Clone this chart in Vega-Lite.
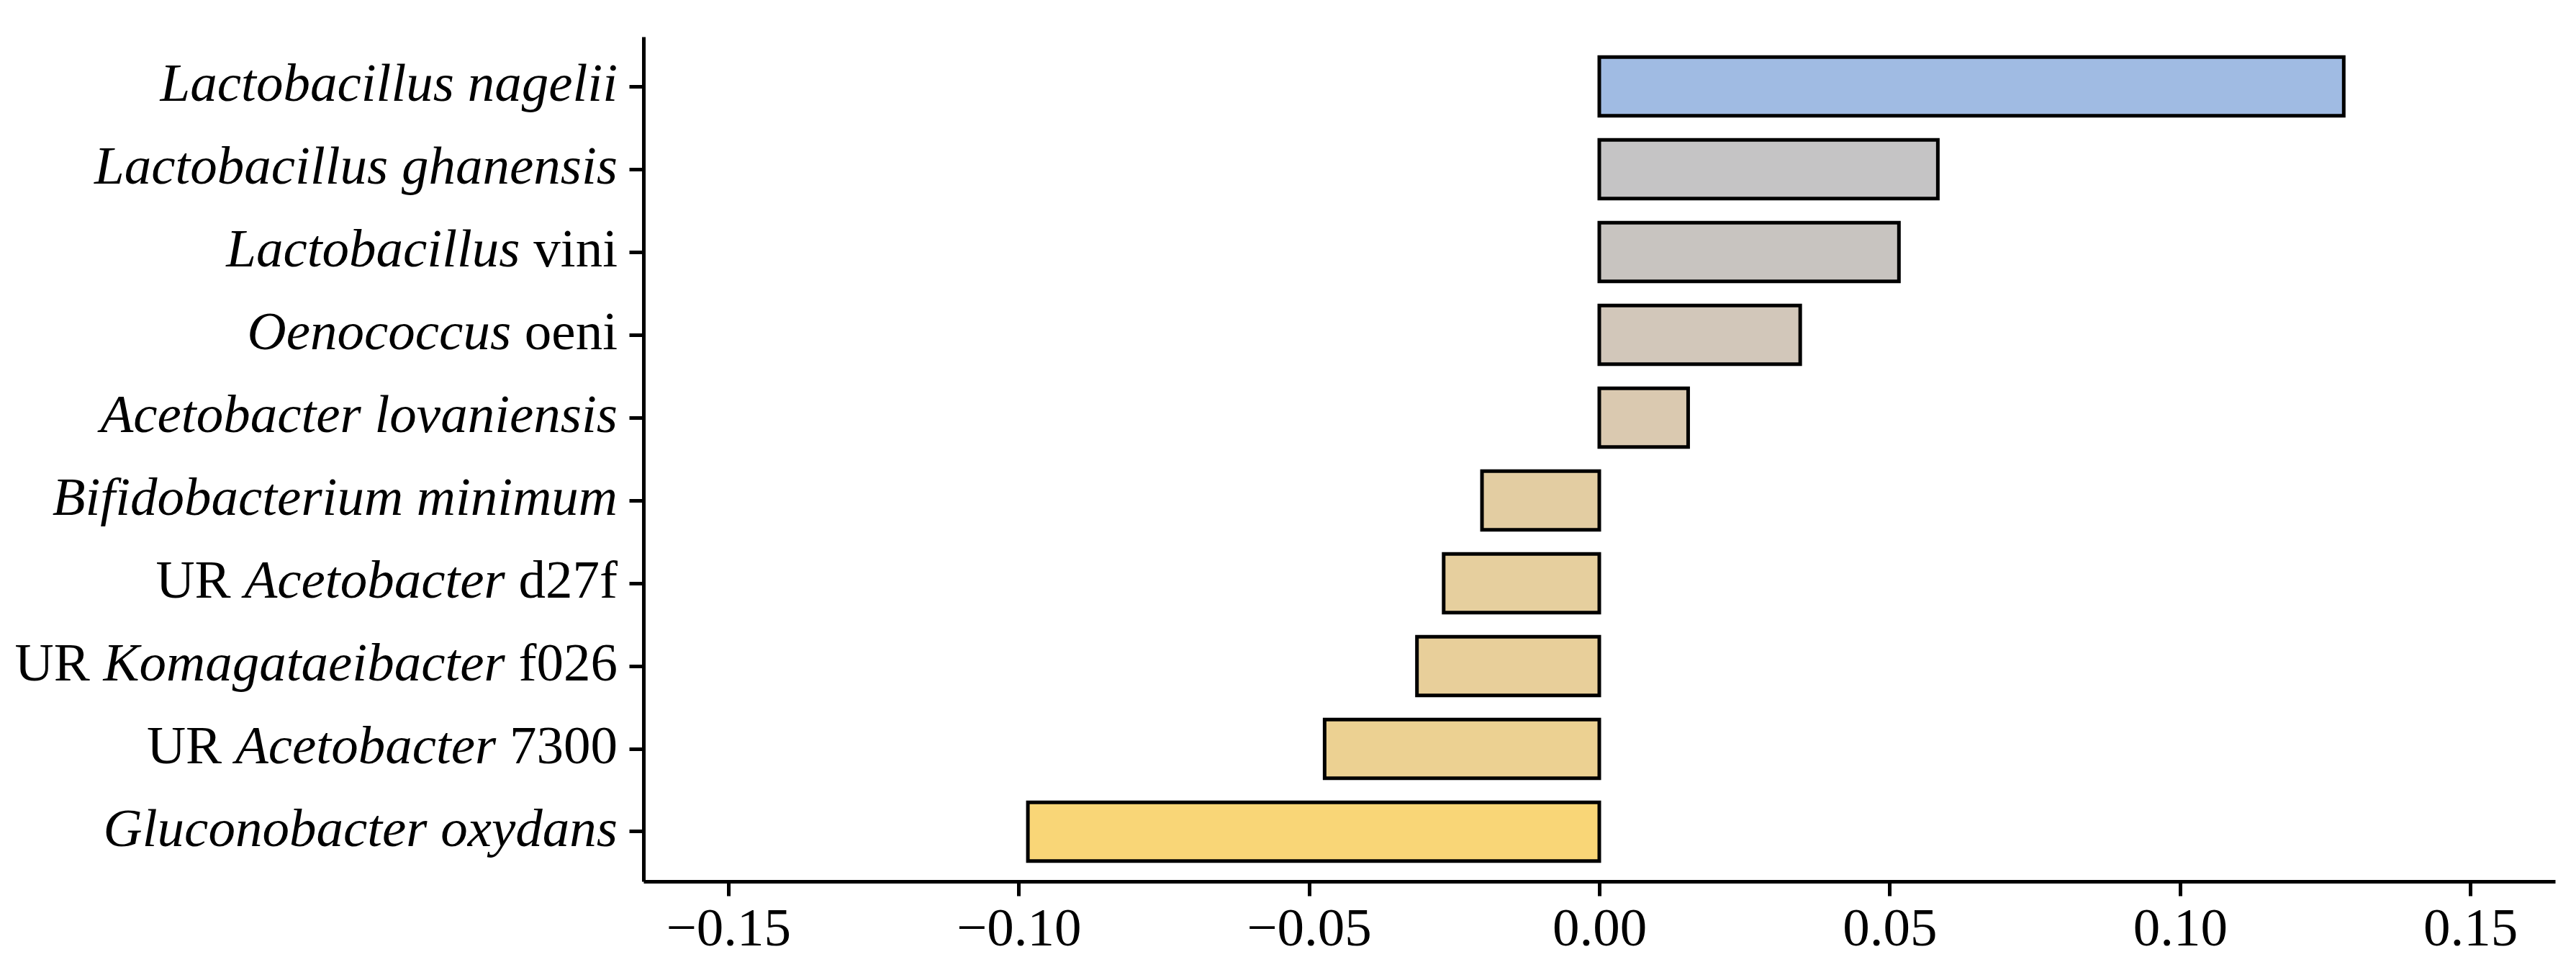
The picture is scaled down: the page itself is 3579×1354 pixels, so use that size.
{
  "$schema": "https://vega.github.io/schema/vega-lite/v6.json",
  "width": 2656,
  "height": 1173,
  "autosize": {"type": "none"},
  "padding": {"left": 894, "top": 51, "right": 29, "bottom": 130},
  "background": "white",
  "config": {
    "view": {"stroke": null},
    "axis": {
      "domainColor": "black",
      "domainWidth": 5,
      "tickColor": "black",
      "tickWidth": 5,
      "tickSize": 20,
      "grid": false,
      "labelFont": "Liberation Serif",
      "labelFontSize": 75,
      "labelColor": "black"
    },
    "text": {"font": "Liberation Serif", "fontSize": 75, "color": "black", "align": "right", "baseline": "alphabetic", "dy": 20}
  },
  "data": {
    "values": [
      {"name": "Lactobacillus nagelii", "pre": "", "ital": "Lactobacillus nagelii", "suf": "", "value": 0.1282},
      {"name": "Lactobacillus ghanensis", "pre": "", "ital": "Lactobacillus ghanensis", "suf": "", "value": 0.0583},
      {"name": "Lactobacillus vini", "pre": "", "ital": "Lactobacillus", "suf": "vini", "value": 0.0516},
      {"name": "Oenococcus oeni", "pre": "", "ital": "Oenococcus", "suf": "oeni", "value": 0.0346},
      {"name": "Acetobacter lovaniensis", "pre": "", "ital": "Acetobacter lovaniensis", "suf": "", "value": 0.0153},
      {"name": "Bifidobacterium minimum", "pre": "", "ital": "Bifidobacterium minimum", "suf": "", "value": -0.0202},
      {"name": "UR Acetobacter d27f", "pre": "UR", "ital": "Acetobacter", "suf": "d27f", "value": -0.0268},
      {"name": "UR Komagataeibacter f026", "pre": "UR", "ital": "Komagataeibacter", "suf": "f026", "value": -0.0314},
      {"name": "UR Acetobacter 7300", "pre": "UR", "ital": "Acetobacter", "suf": "7300", "value": -0.0473},
      {"name": "Gluconobacter oxydans", "pre": "", "ital": "Gluconobacter oxydans", "suf": "", "value": -0.0984}
    ]
  },
  "encoding": {
    "y": {
      "field": "name",
      "type": "nominal",
      "scale": {
        "domain": ["Lactobacillus nagelii", "Lactobacillus ghanensis", "Lactobacillus vini", "Oenococcus oeni", "Acetobacter lovaniensis", "Bifidobacterium minimum", "UR Acetobacter d27f", "UR Komagataeibacter f026", "UR Acetobacter 7300", "Gluconobacter oxydans"],
        "paddingInner": 0.29,
        "paddingOuter": 0.245
      },
      "axis": {"title": null, "labels": false, "ticks": true, "domain": true}
    }
  },
  "layer": [
    {
      "mark": {"type": "bar", "stroke": "black", "strokeWidth": 5},
      "encoding": {
        "x": {
          "field": "value",
          "type": "quantitative",
          "scale": {"domain": [-0.1646, 0.1646], "nice": false, "zero": false},
          "axis": {"title": null, "values": [-0.15, -0.1, -0.05, 0, 0.05, 0.1, 0.15], "format": ".2f", "labelBaseline": "alphabetic", "labelPadding": 68}
        },
        "color": {
          "field": "name",
          "type": "nominal",
          "scale": {
            "domain": ["Lactobacillus nagelii", "Lactobacillus ghanensis", "Lactobacillus vini", "Oenococcus oeni", "Acetobacter lovaniensis", "Bifidobacterium minimum", "UR Acetobacter d27f", "UR Komagataeibacter f026", "UR Acetobacter 7300", "Gluconobacter oxydans"],
            "range": ["#A0BBE3", "#C5C4C5", "#C8C4C0", "#D2C7BA", "#DAC9B0", "#E3CDA2", "#E6CF9E", "#E8CF9A", "#ECD192", "#F9D677"]
          },
          "legend": null
        }
      }
    },
    {
      "transform": [{"filter": "datum.suf != ''"}],
      "mark": {"type": "text", "dx": -36},
      "encoding": {"x": {"datum": -0.1646, "type": "quantitative", "title": null}, "text": {"field": "suf"}}
    },
    {
      "transform": [{"filter": "datum.suf == ''"}],
      "mark": {"type": "text", "dx": -36, "fontStyle": "italic"},
      "encoding": {"x": {"datum": -0.1646, "type": "quantitative", "title": null}, "text": {"field": "ital"}}
    },
    {
      "transform": [{"filter": "datum.suf == 'vini'"}],
      "mark": {"type": "text", "dx": -171.5, "fontStyle": "italic"},
      "encoding": {"x": {"datum": -0.1646, "type": "quantitative", "title": null}, "text": {"field": "ital"}}
    },
    {
      "transform": [{"filter": "datum.suf == 'oeni'"}],
      "mark": {"type": "text", "dx": -183.9, "fontStyle": "italic"},
      "encoding": {"x": {"datum": -0.1646, "type": "quantitative", "title": null}, "text": {"field": "ital"}}
    },
    {
      "transform": [{"filter": "datum.suf == 'd27f' || datum.suf == 'f026'"}],
      "mark": {"type": "text", "dx": -192.2, "fontStyle": "italic"},
      "encoding": {"x": {"datum": -0.1646, "type": "quantitative", "title": null}, "text": {"field": "ital"}}
    },
    {
      "transform": [{"filter": "datum.suf == '7300'"}],
      "mark": {"type": "text", "dx": -204.75, "fontStyle": "italic"},
      "encoding": {"x": {"datum": -0.1646, "type": "quantitative", "title": null}, "text": {"field": "ital"}}
    },
    {
      "transform": [{"filter": "datum.suf == 'd27f'"}],
      "mark": {"type": "text", "dx": -573.4},
      "encoding": {"x": {"datum": -0.1646, "type": "quantitative", "title": null}, "text": {"field": "pre"}}
    },
    {
      "transform": [{"filter": "datum.suf == 'f026'"}],
      "mark": {"type": "text", "dx": -769.3},
      "encoding": {"x": {"datum": -0.1646, "type": "quantitative", "title": null}, "text": {"field": "pre"}}
    },
    {
      "transform": [{"filter": "datum.suf == '7300'"}],
      "mark": {"type": "text", "dx": -585.9},
      "encoding": {"x": {"datum": -0.1646, "type": "quantitative", "title": null}, "text": {"field": "pre"}}
    }
  ]
}
